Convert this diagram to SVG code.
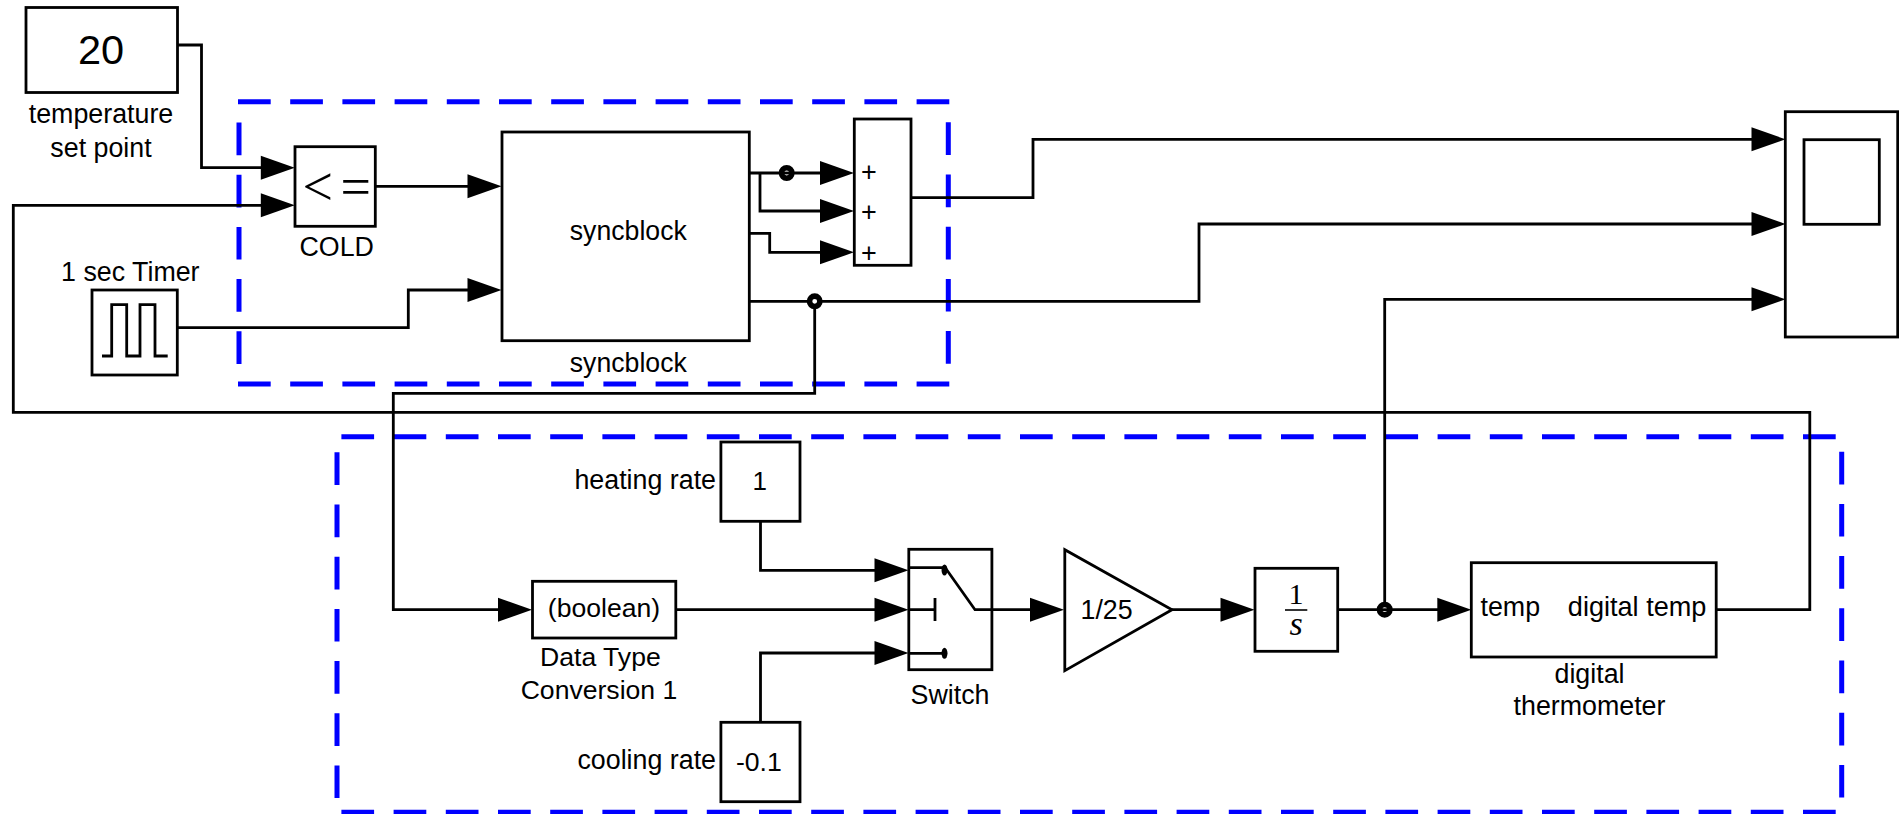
<svg xmlns="http://www.w3.org/2000/svg" width="1899" height="814" viewBox="0 0 1899 814">
<style>
text{font-family:"Liberation Sans",Arial,sans-serif;font-size:26.8px;fill:#000}
.m{text-anchor:middle}
.e{text-anchor:end}
.b{fill:#fff;stroke:#000;stroke-width:2.8}
.c{fill:none;stroke:#000;stroke-width:2.8}
.a{marker-end:url(#arrow)}
.d{fill:none;stroke:#00f;stroke-width:5;stroke-dasharray:32.7 19.5}
.j{fill:#fff;stroke:#000;stroke-width:5.6}
.s{font-family:"Liberation Serif","Times New Roman",serif}
</style>
<defs>
<marker id="arrow" markerUnits="userSpaceOnUse" markerWidth="34" markerHeight="24" viewBox="0 0 34 24" refX="23.5" refY="12" orient="auto" overflow="visible"><path d="M0 0L34 12L0 24Z" fill="#000"/></marker>
</defs>
<rect width="1899" height="814" fill="#fff"/>
<g id="regions">
<path class="d" d="M238 101.7H950.7"/>
<path class="d" d="M238 384H950.7"/>
<path class="d" d="M239 122.5V365"/>
<path class="d" d="M948.3 122.3V365"/>
<path class="d" d="M341.4 436.7H1838"/>
<path class="d" d="M341.4 812.3H1838"/>
<path class="d" d="M337 452.3V798"/>
<path class="d" d="M1841.7 451.7V798"/>
</g>
<g id="connectors">
<path class="c a" d="M177.5 45H201.5V167.7H284.3"/>
<path class="c a" d="M1716.2 609.7H1809.8V412.3H13.3V205.3H284.3"/>
<path class="c a" d="M375.3 186.3H491"/>
<path class="c a" d="M177.3 327.7H408.3V290H491"/>
<path class="c a" d="M749.3 173H843.5"/>
<path class="c a" d="M760 173V211H843.5"/>
<path class="c a" d="M749.3 233.3H769.7V252.3H843.5"/>
<path class="c a" d="M911 197.7H1033V139.3H1775"/>
<path class="c a" d="M749.3 301.3H1199V224H1775"/>
<path class="c a" d="M814.7 301.3V393.3H393.3V609.7H521.5"/>
<path class="c a" d="M760.5 521.3V570.3H898"/>
<path class="c a" d="M675.8 609.7H898"/>
<path class="c a" d="M760.5 722.3V653H898"/>
<path class="c a" d="M992 609.7H1053.5"/>
<path class="c a" d="M1172 609.7H1244"/>
<path class="c a" d="M1337.7 609.7H1460.8"/>
<path class="c a" d="M1384.7 609.7V299.3H1775"/>
<circle class="j" cx="786.7" cy="173" r="5.2"/>
<path class="c" d="M780 173H793"/>
<circle class="j" cx="814.7" cy="301.3" r="5.2"/>
<circle class="j" cx="1384.7" cy="609.7" r="5.2"/>
<path class="c" d="M1378 609.7H1391"/>
</g>
<g id="setpoint">
<rect class="b" x="26" y="7.5" width="151.5" height="85"/>
<text class="m" x="101" y="64" style="font-size:41.5px">20</text>
<text class="m" x="101" y="122.7">temperature</text>
<text class="m" x="101" y="156.5">set point</text>
</g>
<g id="cold">
<rect class="b" x="295" y="146.7" width="80.3" height="79.6"/>
<text class="s" x="302.5" y="204.5" style="font-size:54px">&lt;</text>
<text class="s" x="340.5" y="204.5" style="font-size:54px">=</text>
<text class="m" x="336.7" y="256">COLD</text>
</g>
<g id="timer">
<text class="m" x="130.3" y="280.7">1 sec Timer</text>
<rect class="b" x="92" y="290" width="85.3" height="85"/>
<path class="c" d="M102 356H111.7V304.7H126.7V356H140V304.7H155V356H167.7"/>
</g>
<g id="syncblock">
<rect class="b" x="502" y="132" width="247.3" height="208.7"/>
<text class="m" x="628.3" y="240" textLength="117" lengthAdjust="spacingAndGlyphs">syncblock</text>
<text class="m" x="628.3" y="372" textLength="117" lengthAdjust="spacingAndGlyphs">syncblock</text>
</g>
<g id="sum">
<rect class="b" x="854.3" y="119" width="56.7" height="146.3"/>
<text class="m" x="869" y="180.5" style="font-size:27px">+</text>
<text class="m" x="869" y="220.5" style="font-size:27px">+</text>
<text class="m" x="869" y="261.5" style="font-size:27px">+</text>
</g>
<g id="scope">
<rect class="b" x="1785.3" y="111.7" width="112.4" height="225.3"/>
<rect class="b" x="1804" y="139.7" width="75.3" height="84.6"/>
</g>
<g id="heating">
<rect class="b" x="720.9" y="442" width="79.1" height="79.3"/>
<text class="m" x="759.7" y="490" style="font-size:26px">1</text>
<text class="e" x="716" y="489.3">heating rate</text>
</g>
<g id="cooling">
<rect class="b" x="720.9" y="722.3" width="79.1" height="79.4"/>
<text class="m" x="758.8" y="771" style="font-size:26.6px">-0.1</text>
<text class="e" x="716" y="769.3">cooling rate</text>
</g>
<g id="conversion">
<rect class="b" x="532.5" y="581.3" width="143.3" height="56.7"/>
<text class="m" x="604" y="616.7" style="font-size:26.6px">(boolean)</text>
<text class="m" x="600.4" y="666" style="font-size:26.6px">Data Type</text>
<text class="m" x="599" y="699.3" style="font-size:26.6px">Conversion 1</text>
</g>
<g id="switch">
<rect class="b" x="908.8" y="549.3" width="83.1" height="120.4"/>
<path class="c" d="M908.8 567.7H944M908.8 609.7H935M935 598V621M908.8 653.3H944M944 566L975 609.7H992"/>
<ellipse cx="944.5" cy="570" rx="3" ry="5.5"/>
<ellipse cx="944.5" cy="653.3" rx="3" ry="5.5"/>
<text class="m" x="950" y="704.3">Switch</text>
</g>
<g id="gain">
<path class="b" d="M1064.8 549.7V670.7L1172 609.7Z"/>
<text class="m" x="1106.6" y="619.3">1/25</text>
</g>
<g id="integrator">
<rect class="b" x="1255" y="568.3" width="82.7" height="83"/>
<text class="m s" x="1296" y="604" style="font-size:30px">1</text>
<path class="c" style="stroke-width:1.6" d="M1285 610H1307.3"/>
<text class="m s" x="1296" y="635.3" style="font-size:34px;font-style:italic">s</text>
</g>
<g id="thermometer">
<rect class="b" x="1471.3" y="562.7" width="244.9" height="94.3"/>
<text x="1480.5" y="616">temp</text>
<text class="e" x="1706.4" y="616" style="font-size:27.1px">digital temp</text>
<text class="m" x="1589.5" y="683.3">digital</text>
<text class="m" x="1589.5" y="715.3">thermometer</text>
</g>
</svg>
